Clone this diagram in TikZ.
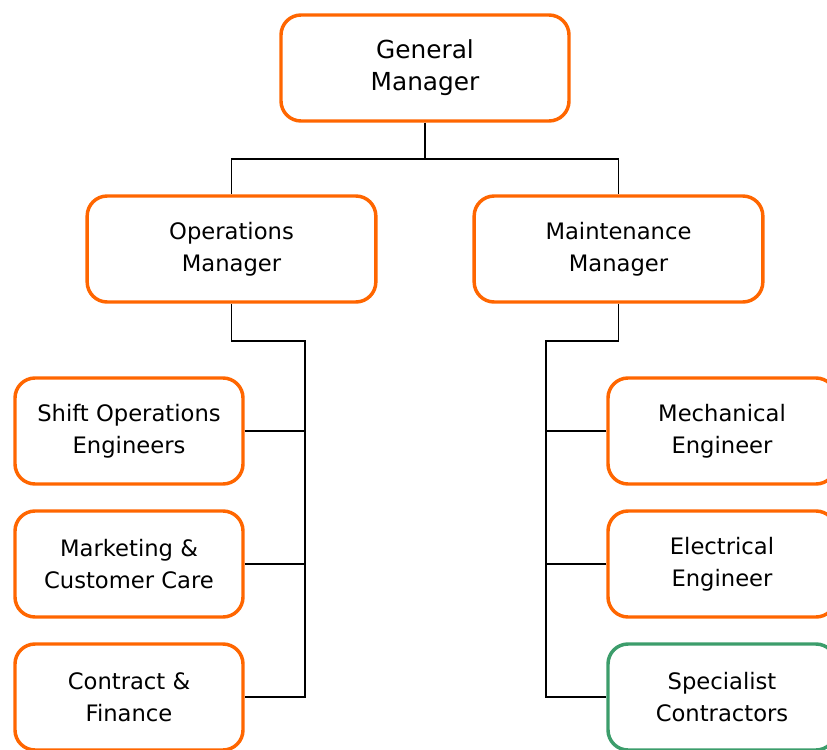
\documentclass[tikz,border=0pt]{standalone}
\usepackage{fontspec}
\setmainfont{DejaVu Sans}
\usetikzlibrary{positioning}
\definecolor{boxorange}{HTML}{FF6600}
\definecolor{boxgreen}{HTML}{3C9D6B}
\begin{document}
\begin{tikzpicture}
        [x = 0.75pt, y = -0.75pt,
        post/.style = {draw = boxorange, line width = 2.6pt, rounded corners = 15pt,
            align = center, inner sep = 0, minimum height = 79.5pt,
            font = {\fontsize{17}{24}\selectfont}},
        topbox/.style = {post, minimum width = 216pt, font = {\fontsize{18.6}{24}\selectfont}},
        midbox/.style = {post, minimum width = 216.5pt},
        staffbox/.style = {post, minimum width = 171pt},
        link/.style = {draw, line width = 1.1pt}]
        \useasboundingbox (0, 0) rectangle (827, 749);
        \node[topbox] (gm) at (425, 68) {General\\Manager};
        \node[midbox] (ops) at (231.5, 249) {Operations\\Manager};
        \node[midbox] (maint) at (618.5, 249) {Maintenance\\Manager};
        \node[staffbox] (shift) at (129, 431) {Shift Operations\\Engineers};
        \node[staffbox] (mkt) at (129, 564) {Marketing \&\\Customer Care};
        \node[staffbox] (contract) at (129, 697) {Contract \&\\Finance};
        \node[staffbox] (mech) at (722, 431) {Mechanical\\Engineer};
        \node[staffbox] (elec) at (722, 564) {Electrical\\Engineer};
        \node[staffbox, draw = boxgreen] (spec) at (722, 697) {Specialist\\Contractors};
        \coordinate (split) at (425, 159);
        \coordinate (lbus) at (305, 341);
        \coordinate (rbus) at (546, 341);
        % top level
        \draw[link] (gm.south) -- (split);
        \draw[link] (split) -| (ops.north);
        \draw[link] (split) -| (maint.north);
        % operations side
        \draw[link] (ops.south) |- (lbus) |- (contract.east);
        \draw[link] (shift.east) -- (shift.east -| lbus);
        \draw[link] (mkt.east) -- (mkt.east -| lbus);
        % maintenance side
        \draw[link] (maint.south) |- (rbus) |- (spec.west);
        \draw[link] (mech.west) -- (mech.west -| rbus);
        \draw[link] (elec.west) -- (elec.west -| rbus);
    \end{tikzpicture}
\end{document}
